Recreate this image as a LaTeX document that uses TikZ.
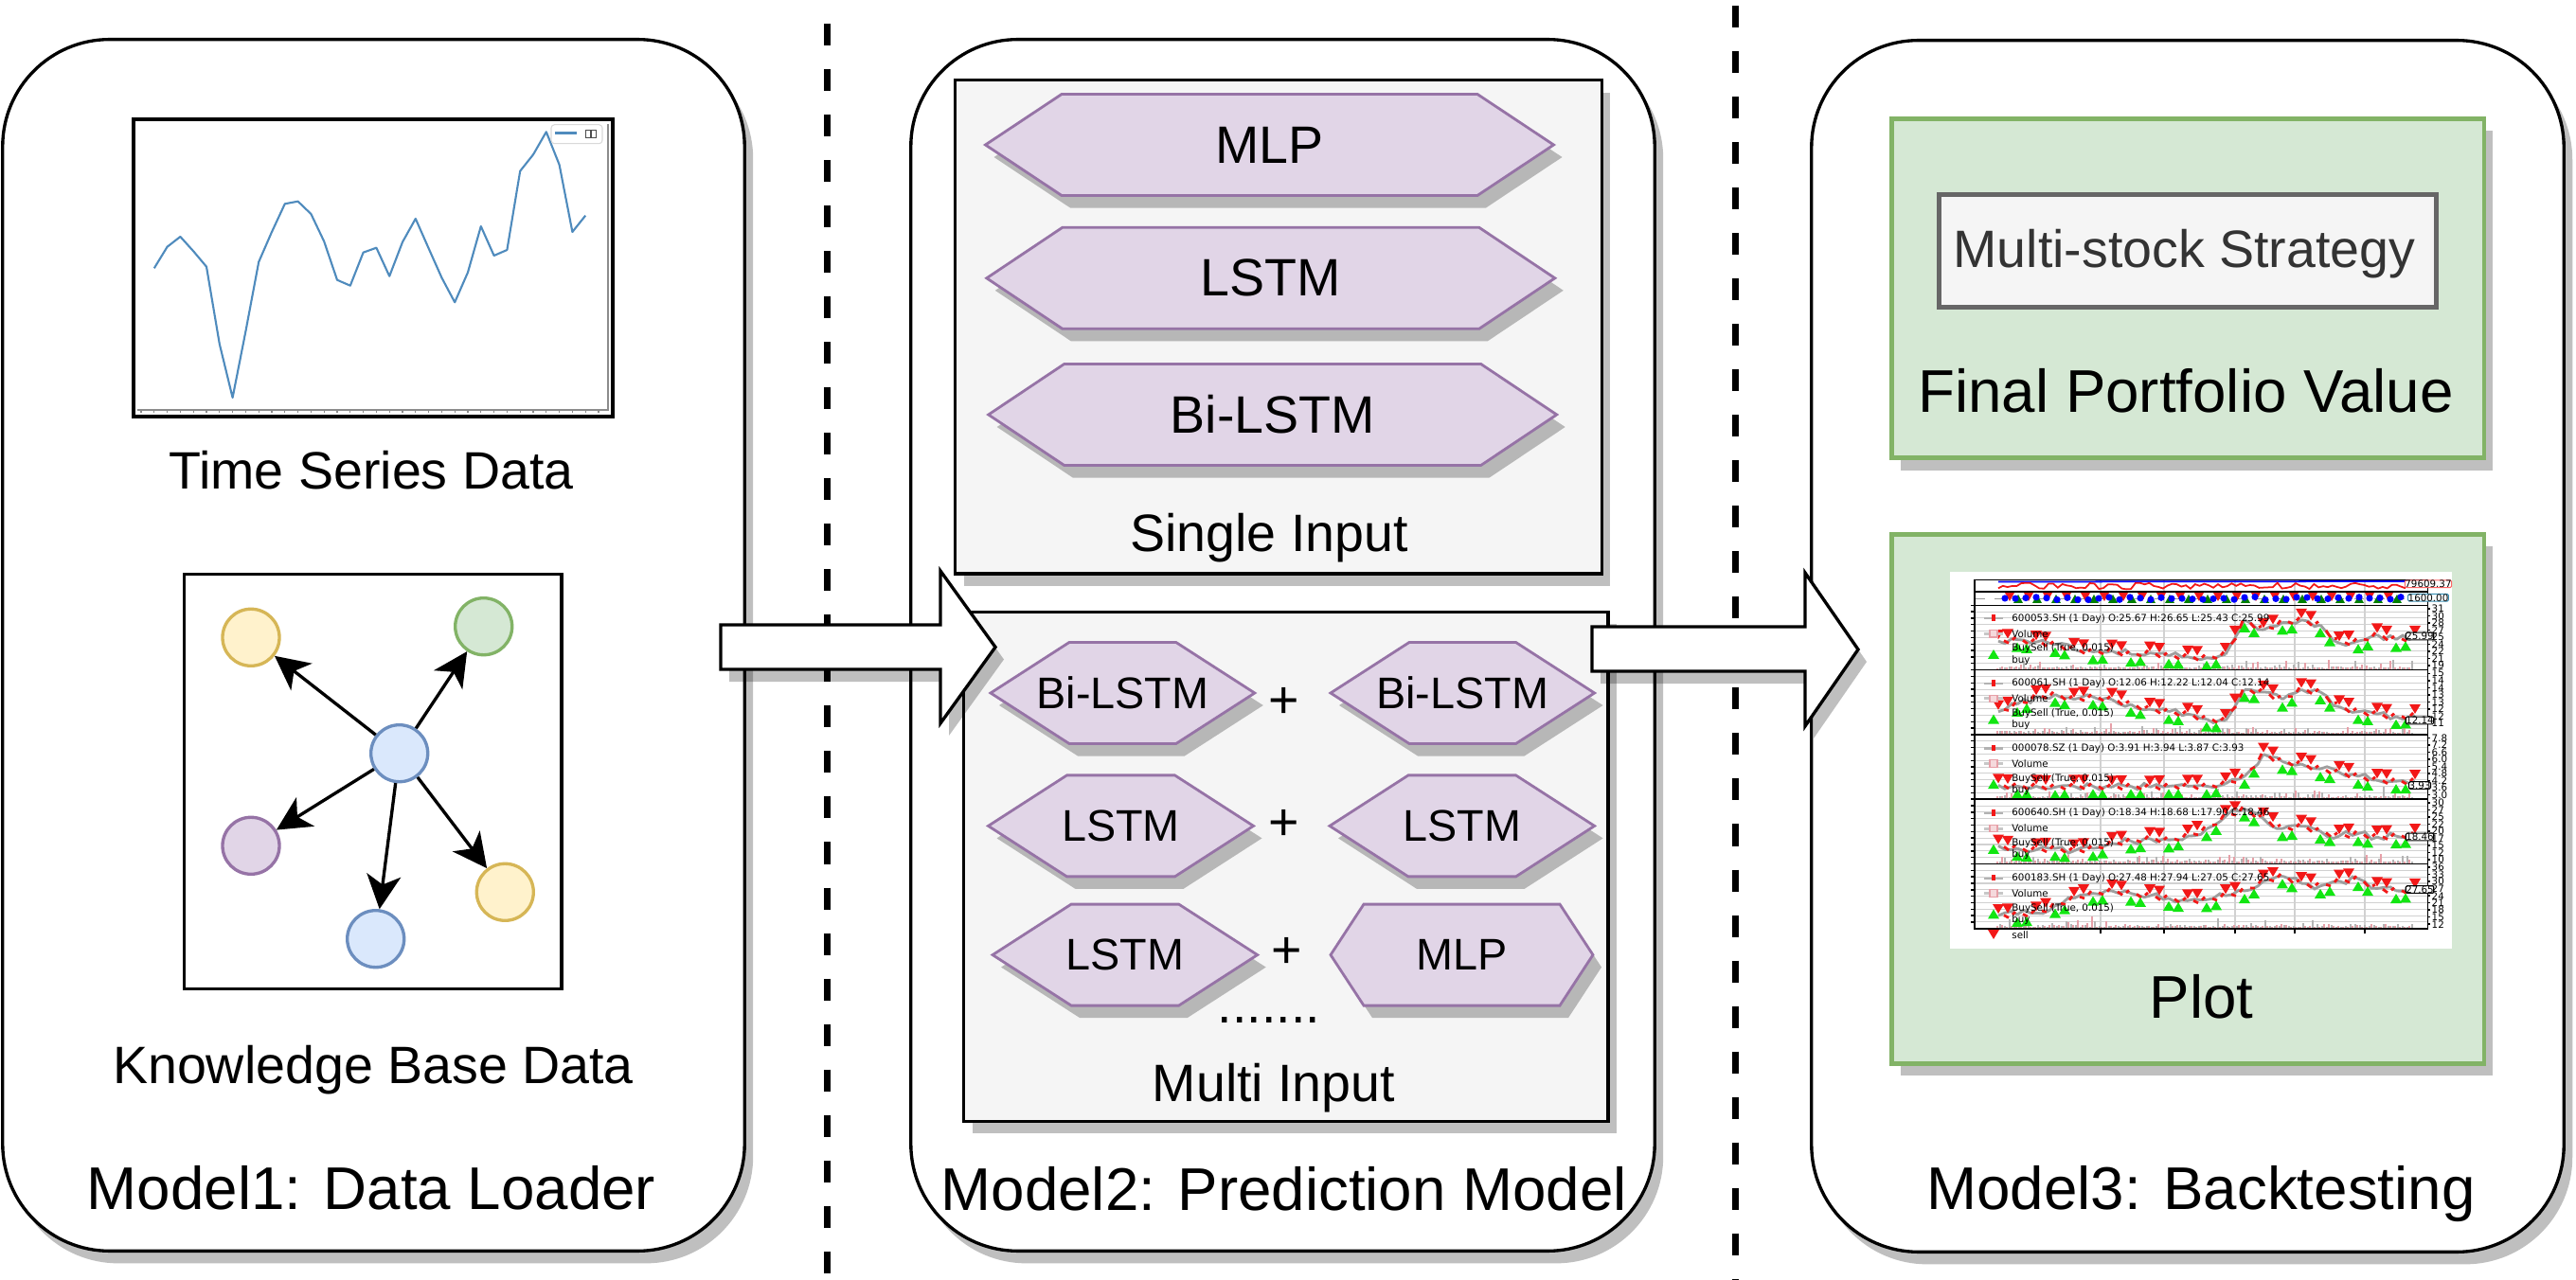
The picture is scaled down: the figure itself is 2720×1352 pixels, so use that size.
\documentclass[tikz,border=0pt]{standalone}
\usepackage{fontspec}
\setmainfont{Liberation Sans}
\newfontfamily\mplfont{DejaVu Sans}
\usepackage{xcolor}
\usepackage{tikz}
\usetikzlibrary{arrows.meta}
\usetikzlibrary{shadows}

\definecolor{yellowfill}{HTML}{FFF2CC}
\definecolor{yellowline}{HTML}{D6B656}
\definecolor{greenfill}{HTML}{D5E8D4}
\definecolor{greenline}{HTML}{82B366}
\definecolor{bluefill}{HTML}{DAE8FC}
\definecolor{blueline}{HTML}{6C8EBF}
\definecolor{purplefill}{HTML}{E1D5E7}
\definecolor{purpleline}{HTML}{9673A6}
\definecolor{greyfill}{HTML}{F5F5F5}
\definecolor{greyline}{HTML}{666666}
\definecolor{strategytext}{HTML}{333333}
\definecolor{seriesblue}{HTML}{4F8BBD}
\definecolor{buygreen}{HTML}{12E612}
\definecolor{sellred}{HTML}{F21818}
\definecolor{volpink}{HTML}{E6A0A8}
\definecolor{volgray}{HTML}{B4B4B4}

\tikzset{
  dropgray/.style={drop shadow={shadow xshift=0.09cm,shadow yshift=-0.13cm,fill=black,opacity=0.25}},
  stage/.style={draw,line width=0.95pt,fill=white,rounded corners=1.13cm,minimum height=12.79cm,dropgray},
  group/.style={draw,line width=0.95pt,fill=greyfill,dropgray},
  result/.style={draw=greenline,line width=1.3pt,fill=greenfill,dropgray},
  strategy/.style={draw=greyline,line width=1.3pt,fill=greyfill},
  hexline/.style={draw=purpleline,line width=0.8pt,fill=purplefill},
  kbnode/.style={circle,line width=0.95pt,minimum size=0.6cm,inner sep=0pt},
  kbedge/.style={line width=0.95pt,-{Stealth[length=0.36cm,width=0.36cm,inset=0.1cm]}},
  blockarrow/.style={draw,line width=0.95pt,fill=white,line join=miter,dropgray},
  separator/.style={line width=2pt,dash pattern=on 0.23cm off 0.25cm},
  txt/.style={font=\fontsize{15.8}{19}\selectfont,inner sep=0pt},
  hexsmall/.style={font=\fontsize{13.3}{16}\selectfont,inner sep=0pt},
  title/.style={font=\fontsize{18.1}{22}\selectfont,inner sep=0pt},
  seriesline/.style={draw=seriesblue,line width=0.6pt,line join=round},
  mpl/.style={font=\mplfont\fontsize{2.93}{3.5}\selectfont,inner sep=0pt},
  chartrule/.style={line width=0.4pt},
  gridline/.style={draw=black!18,line width=0.3pt},
  pricegray/.style={draw=black!38,line width=0.8pt},
  pricered/.style={draw=sellred,line width=0.8pt},
  pricetag/.style={draw,line width=0.3pt,fill=white,rounded corners=0.4pt,inner sep=0.5pt,mpl}
}

% name, x, y, half width, inset, text style, text
\newcommand{\hexbox}[7]{%
  \draw[hexline,dropgray] (#2-#4,#3) -- (#2-#4+#5,#3-53.5) -- (#2+#4-#5,#3-53.5)
    -- (#2+#4,#3) -- (#2+#4-#5,#3+53.5) -- (#2-#4+#5,#3+53.5) -- cycle;
  \node[#6] (#1) at (#2,#3) {#7};
}
% buy and sell markers
\newcommand{\buymark}[2]{\fill[buygreen] (#1,#2) ++(-6,5) -- ++(12,0) -- ++(-6,-10) -- cycle;}
\newcommand{\sellmark}[2]{\fill[sellred] (#1,#2) ++(-6,-5) -- ++(12,0) -- ++(-6,10) -- cycle;}

\begin{document}
\begin{tikzpicture}[x=0.01cm,y=-0.01cm]
\useasboundingbox (0,0) rectangle (2720,1352);

%stage boxes
\node[stage,minimum width=7.83cm] (loader) at (394.5,681.5) {};
\node[stage,minimum width=7.85cm] (predictor) at (1354.5,681.5) {};
\node[stage,minimum width=7.94cm] (backtester) at (2310,682.5) {};

%separators
\draw[separator] (873.7,25) -- (873.7,1352);
\draw[separator] (1832,6) -- (1832,1352);

%time series chart
\node[draw,line width=1.25pt,minimum width=5.06cm,minimum height=3.14cm] (tschart) at (394,283) {};
\draw[black!45,line width=0.3pt] (145,433) -- (642,433) -- (642,131);
\foreach \i in {-1,...,34}
  \draw[black!45,line width=0.3pt] (162.8+13.8*\i,433) -- (162.8+13.8*\i,436);
\draw[seriesline] (162.8,283.3) \foreach \v [count=\i] in {260.7,250,265.3,281.7,363.3,420,350,276.7,245,215.3,212.7,226,255,295.7,301.7,266.7,261.7,291.7,255.7,231,262.3,293.3,319.3,287.7,239,270,264,180.7,163.3,139.3,174,245,227.7} {-- (162.8+13.8*\i,\v)};
\node[draw=black!15,line width=0.3pt,rounded corners=1pt,minimum width=0.54cm,minimum height=0.2cm,inner sep=0pt] (tslegend) at (609,141.7) {};
\draw[seriesline] (586,140.5) -- (609,140.5);
\draw[black!70,line width=0.25pt] (618.5,137) rectangle (623.8,145.5) (624.4,137) rectangle (629.7,145.5);
\node[txt,anchor=base] (tslabel) at (392,517) {Time Series Data};

%knowledge graph
\node[draw,line width=0.95pt,minimum width=3.98cm,minimum height=4.38cm] (kbframe) at (393.8,825.5) {};
\node[kbnode,fill=bluefill,draw=blueline] (kbhub) at (421.7,795.7) {};
\node[kbnode,fill=yellowfill,draw=yellowline] (kbtl) at (265,673.3) {};
\node[kbnode,fill=greenfill,draw=greenline] (kbtr) at (510.7,661.7) {};
\node[kbnode,fill=purplefill,draw=purpleline] (kbml) at (265,893.3) {};
\node[kbnode,fill=bluefill,draw=blueline] (kbbm) at (396.7,991.7) {};
\node[kbnode,fill=yellowfill,draw=yellowline] (kbbr) at (533.3,942.3) {};
\draw[kbedge] (kbhub) -- (kbtl);
\draw[kbedge] (kbhub) -- (kbtr);
\draw[kbedge] (kbhub) -- (kbml);
\draw[kbedge] (kbhub) -- (kbbm);
\draw[kbedge] (kbhub) -- (kbbr);
\node[txt,anchor=base] (kblabel) at (394,1144) {Knowledge Base Data};
\node[title,anchor=base] (loadertitle) at (392,1277) {Model1: Data Loader};

%single input
\node[group,minimum width=6.82cm,minimum height=5.21cm] (single) at (1350,345.3) {};
\hexbox{solomlp}{1340.5}{153}{300}{80.5}{txt}{MLP}
\hexbox{sololstm}{1341.8}{293.8}{300}{80}{txt}{LSTM}
\hexbox{solobilstm}{1343.7}{438}{300}{80}{txt}{Bi-LSTM}
\node[txt,anchor=base] (singlelabel) at (1340,582.6) {Single Input};

%multi input
\node[group,minimum width=6.8cm,minimum height=5.375cm] (multi) at (1357.9,915.3) {};
\hexbox{pairbil}{1185.4}{732}{139.4}{83}{hexsmall}{Bi-LSTM}
\hexbox{pairbir}{1544.3}{732}{139.3}{83}{hexsmall}{Bi-LSTM}
\hexbox{pairlsl}{1183.5}{872.4}{140}{83}{hexsmall}{LSTM}
\hexbox{pairlsr}{1543.8}{872.4}{139.8}{83}{hexsmall}{LSTM}
\hexbox{mixlsl}{1187.9}{1008.6}{139.8}{83}{hexsmall}{LSTM}
\hexbox{mixmlp}{1543.5}{1008.6}{138.5}{35}{hexsmall}{MLP}
\node[txt] (plusa) at (1356,742.5) {+};
\node[txt] (plusb) at (1356,871) {+};
\node[txt] (plusc) at (1359,1006.7) {+};
\node[txt,anchor=base] (moredots) at (1340,1080) {.......};
\node[txt,anchor=base] (multilabel) at (1345,1163.6) {Multi Input};
\node[title,anchor=base] (predtitle) at (1355.8,1278.7) {Model2: Prediction Model};

%backtesting
\node[result,minimum width=6.25cm,minimum height=3.58cm] (portfolio) at (2310.3,304.5) {};
\node[strategy,minimum width=5.25cm,minimum height=1.19cm] (strategy) at (2310,265.2) {};
\node[txt,anchor=base,text=strategytext] (strategylabel) at (2306.5,283) {Multi-stock Strategy};
\node[title,anchor=base] (portfoliolabel) at (2308,436) {Final Portfolio Value};
\node[result,minimum width=6.25cm,minimum height=5.585cm] (plotbox) at (2310.4,843.8) {};
\node[title,anchor=base] (plotlabel) at (2324.5,1075) {Plot};
\node[title,anchor=base] (backtitle) at (2324,1277) {Model3: Backtesting};

%backtest screenshot
\node[fill=white,minimum width=5.3cm,minimum height=3.98cm,inner sep=0pt] (chartimg) at (2324,803) {};
\foreach \gx in {2218,2285,2360,2423,2497}
  \draw[gridline] (\gx,612.7) -- (\gx,981.7);
\foreach \p in {0,...,4}
  \foreach \g in {1,...,9}
    \draw[gridline] (2085,639.3+68.3*\p+6.83*\g) -- (2563.7,639.3+68.3*\p+6.83*\g);
\pgfmathsetseed{2024}
\foreach \p in {0,...,4}
  \foreach \j in {0,...,87}{
    \fill[volpink] (2108+5*\j,707.6+68.3*\p) rectangle ++(2.4,-2-14*rnd*rnd*rnd);
    \fill[volgray] (2110.5+5*\j,707.6+68.3*\p) rectangle ++(2.4,-2-14*rnd*rnd*rnd);
  }
%observer panels
\draw[blue,line width=0.5pt] (2110,614.5) -- (2540,614);
\draw[sellred,line width=0.5pt] plot[domain=2110:2540,samples=90] (\x,{619+3.5*rand});
\draw[black!40,dashed,line width=0.2pt] (2085,632) -- (2563.7,632);
\foreach \j in {0,...,20}{
  \fill[sellred] (2122+20*\j,630) ++(-5,-4) -- ++(10,0) -- ++(-5,9) -- cycle;
  \fill[green!50!black] (2131+20*\j,633) ++(-5,4) -- ++(10,0) -- ++(-5,-9) -- cycle;
}
\foreach \j in {0,...,38}
  \fill[blue] (2117+11*\j,{632+1.5*rand}) circle (3.6);
%price lines and signals
\foreach \p/\levels in {
  0/{0.42,0.45,0.40,0.35,0.25,0.20,0.22,0.15,0.18,0.12,0.10,0.08,0.15,0.85,0.65,0.80,0.85,0.75,0.38,0.42,0.55,0.45,0.50},
  1/{0.30,0.45,0.60,0.65,0.55,0.60,0.55,0.45,0.35,0.30,0.25,0.15,0.12,0.75,0.70,0.55,0.75,0.70,0.40,0.30,0.25,0.20,0.22},
  2/{0.12,0.10,0.10,0.08,0.10,0.10,0.08,0.10,0.08,0.10,0.10,0.10,0.15,0.30,0.75,0.60,0.55,0.45,0.38,0.30,0.22,0.20,0.20},
  3/{0.20,0.15,0.12,0.15,0.10,0.15,0.25,0.30,0.35,0.32,0.40,0.55,0.80,0.95,0.75,0.55,0.60,0.50,0.40,0.45,0.38,0.40,0.42},
  4/{0.10,0.12,0.15,0.30,0.45,0.55,0.60,0.55,0.50,0.45,0.40,0.42,0.50,0.60,0.80,0.90,0.75,0.70,0.80,0.85,0.65,0.60,0.62}}{
  \foreach \v [count=\i from 0,remember=\v as \lastv (initially 0.5)] in \levels {
    \pgfmathsetmacro\px{2110+20*\i}
    \pgfmathsetmacro\py{647+68.3*\p+(1-\v)*52}
    \ifnum\i>0
      \pgfmathsetmacro\qx{2110+20*(\i-1)}
      \pgfmathsetmacro\qy{647+68.3*\p+(1-\lastv)*52}
      \pgfmathsetmacro\my{(\qy+\py)/2}
      \draw[pricegray] (\qx,\qy) -- (\px-13,{\qy+(\py-\qy)*0.35+4*rand}) -- (\px-6,{\qy+(\py-\qy)*0.7+4*rand}) -- (\px,\py);
      \draw[pricered] (\px-14,{\qy+(\py-\qy)*0.3}) -- (\px-9,{\qy+(\py-\qy)*0.55+3}) (\px-5,{\qy+(\py-\qy)*0.75}) -- (\px-2,{\qy+(\py-\qy)*0.9-3});
      \ifodd\i
        \sellmark{\px-10}{\my-7}
      \else
        \buymark{\px-10}{\my+8}
      \fi
    \fi
    \ifodd\i
      \buymark{\px}{\py+8}
    \else
      \sellmark{\px}{\py-7}
    \fi
  }
}
%panel frames and ticks
\draw[chartrule] (2085,612.7) rectangle (2563.7,625);
\draw[chartrule] (2085,625) rectangle (2563.7,639.3);
\foreach \p in {0,...,4}{
  \draw[chartrule] (2085,639.3+68.3*\p) rectangle (2563.7,707.6+68.3*\p);
  \foreach \g in {0,...,9}
    \draw[chartrule] (2081,639.3+68.3*\p+6.83*\g) -- (2085,639.3+68.3*\p+6.83*\g);
}
\foreach \gx in {2218,2285,2360,2423,2497}
  \draw[chartrule] (\gx,981.7) -- (\gx,985.5);
%panel legends
\foreach \p/\hdr in {
  0/{600053.SH (1 Day) O:25.67 H:26.65 L:25.43 C:25.99},
  1/{600061.SH (1 Day) O:12.06 H:12.22 L:12.04 C:12.14},
  2/{000078.SZ (1 Day) O:3.91 H:3.94 L:3.87 C:3.93},
  3/{600640.SH (1 Day) O:18.34 H:18.68 L:17.90 C:18.46},
  4/{600183.SH (1 Day) O:27.48 H:27.94 L:27.05 C:27.65}}{
  \fill[black!30] (2095,652.1+68.6*\p) rectangle (2115,654.5+68.6*\p);
  \fill[sellred] (2102.5,649.5+68.6*\p) rectangle (2106.5,656+68.6*\p);
  \fill[black!22] (2095,667.8+68.6*\p) rectangle (2115,670.8+68.6*\p);
  \draw[volpink,fill=volpink!40,line width=0.3pt] (2101,665.5+68.6*\p) rectangle (2109,673+68.6*\p);
  \buymark{2105}{691+68.6*\p}
  \node[mpl,anchor=west] (head\p) at (2123.7,653.3+68.6*\p) {\hdr};
  \node[mpl,anchor=west] (volume\p) at (2123.7,669.3+68.6*\p) {Volume};
  \node[mpl,anchor=west] (buysell\p) at (2123.7,685+68.6*\p) {BuySell (True, 0.015)};
  \node[mpl,anchor=west] (buy\p) at (2123.7,697.3+68.6*\p) {buy};
}
\sellmark{2105}{987}
\node[mpl,anchor=west] (sell4) at (2123.7,987.3) {sell};
%right axis
\foreach \p/\ticks in {
  0/{31,30,28,27,25,24,22,21,19},
  1/{15,14,14,13,13,12,12,11},
  2/{7.8,7.2,6.6,6.0,5.4,4.8,4.2,3.6,3.0},
  3/{30,27,25,22,20,17,15,12,10},
  4/{36,33,30,27,24,21,18,15,12}}{
  \foreach \t [count=\k from 0] in \ticks{
    \draw[chartrule] (2563.7,643+68.3*\p+7.5*\k) -- (2566,643+68.3*\p+7.5*\k);
    \node[mpl,anchor=west] (tick\p-\k) at (2567,643+68.3*\p+7.5*\k) {\t};
  }
}
\node[pricetag,draw=red!60] (brokertag) at (2564,616.7) {79609.37};
\node[pricetag,draw=cyan!70!black] (cashtag) at (2564,631.3) {1600.00};
\foreach \p/\tag/\ty in {0/25.99/672,1/12.14/761,2/3.93/829.5,3/18.46/884,4/27.65/939.5}
  \node[pricetag] (tag\p) at (2555,\ty) {\tag};

%block arrows
\draw[blockarrow] (761,660) -- (993,660) -- (993,603) -- (1051,683.5) -- (993,764) -- (993,707) -- (761,707) -- cycle;
\draw[blockarrow] (1681,662) -- (1906,662) -- (1906,605) -- (1962,686) -- (1906,767) -- (1906,709) -- (1681,709) -- cycle;
\end{tikzpicture}
\end{document}
